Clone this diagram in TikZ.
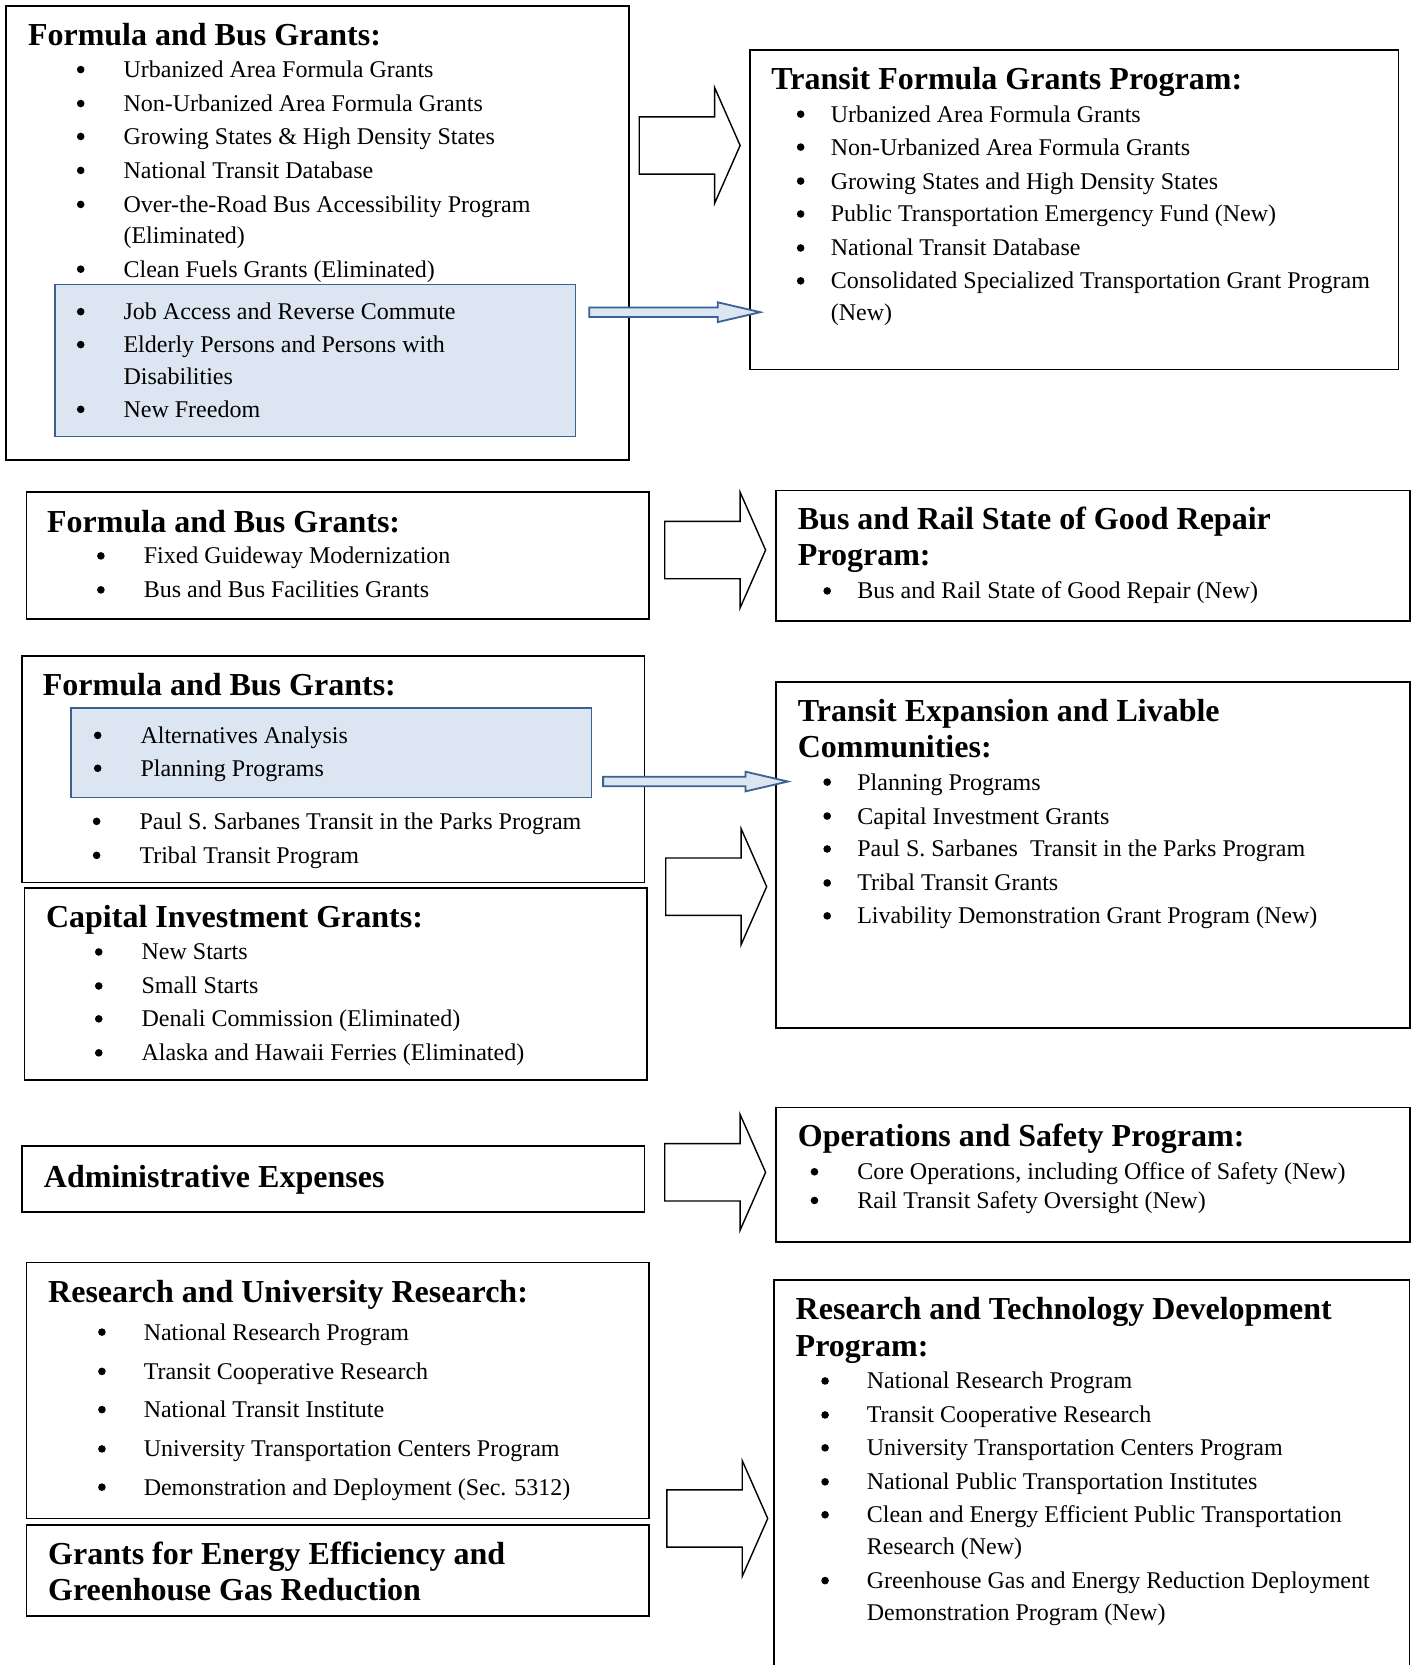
\documentclass[tikz,border=0pt]{standalone}
\usepackage{fontspec}
\setmainfont{Liberation Serif}
\usetikzlibrary{fit}
\definecolor{bfill}{RGB}{220,230,242}
\definecolor{bline}{RGB}{60,96,144}
\tikzset{
 box/.style={draw=black, line width=0.9pt, inner sep=0pt, rectangle},
 hbox/.style={draw=bline, fill=bfill, line width=0.9pt, inner sep=0pt, rectangle},
 bigarr/.style={draw=black, line width=0.7pt, fill=white, line join=miter},
 bluarr/.style={draw=bline, fill=bfill, line width=0.9pt, line join=miter},
 head/.style={anchor=base west, inner sep=0pt, font=\fontsize{16}{19}\selectfont\bfseries},
 txt/.style={anchor=base west, inner sep=0pt, font=\fontsize{12}{14}\selectfont},
 bul/.style={circle, fill=black, draw=none, inner sep=0pt, minimum size=3.8pt},
}
\newcommand\LI[5]{\node[bul] (#1b) at (#2,#4+0.5) {}; \node[txt] (#1) at (#3,#4+8) {#5};}
\newcommand\LC[4]{\node[txt] (#1) at (#2,#3+8) {#4};}
\newcommand\HD[4]{\node[head] (#1) at (#2,#3+9) {#4};}
\newcommand\BIGARROW[3]{% name, tail x, center y
 \draw[bigarr] (#2,#3-27) -- (#2+71,#3-27) -- (#2+71,#3-54.5) -- (#2+95,#3) -- (#2+71,#3+54.5) -- (#2+71,#3+27) -- (#2,#3+27) -- cycle;
 \coordinate (#1) at (#2+95,#3);}
\newcommand\BLUEARROW[4]{% name, start x, end x, y
 \draw[bluarr] (#2,#4-4.5) -- (#3-40,#4-4.5) -- (#3-40,#4-9.3) -- (#3,#4) -- (#3-40,#4+9.3) -- (#3-40,#4+4.5) -- (#2,#4+4.5) -- cycle;
 \coordinate (#1) at (#3,#4);}
\begin{document}
\begin{tikzpicture}[x=0.5308pt, y=-0.5308pt]
\useasboundingbox[fill=white] (0,0) rectangle (1332,1568);

% ---------- boxes ----------
\node[box, fit={(6,6) (592,433)}] (A) {};
\node[hbox, fit={(52,268) (542,411)}] (Ah) {};
\node[box, fit={(706,47) (1317,348)}] (B) {};
\node[box, fit={(25,463) (611,583)}] (C) {};
\node[box, fit={(731,462) (1328,585)}] (D) {};
\node[box, fit={(21,618) (607,831)}] (E) {};
\node[hbox, fit={(67,667) (557,751)}] (Eh) {};
\node[box, fit={(23,836) (609,1017)}] (F) {};
\node[box, fit={(731,642) (1328,968)}] (G) {};
\node[box, fit={(21,1079) (607,1141)}] (H) {};
\node[box, fit={(731,1043) (1328,1170)}] (I) {};
\node[box, fit={(25,1189) (611,1430)}] (J) {};
\node[box, fit={(25,1436) (611,1522)}] (K) {};
\node[inner sep=0pt, fit={(729,1206) (1327,1572)}] (L) {};
\draw[line width=0.9pt] (L.south west) -- (L.north west) -- (L.north east) -- (L.south east);

% ---------- arrows ----------
\BIGARROW{ar1}{602}{137}
\BIGARROW{ar2}{626}{518}
\BIGARROW{ar3}{627}{835}
\BIGARROW{ar4}{626}{1104}
\BIGARROW{ar5}{628}{1430}
\BLUEARROW{ba1}{555}{716}{294}
\BLUEARROW{ba2}{568}{742}{736}

% ---------- box A ----------
\HD{At}{26}{34}{Formula and Bus Grants:}
\LI{a1}{76}{116}{65}{Urbanized Area Formula Grants}
\LI{a2}{76}{116}{97}{Non-Urbanized Area Formula Grants}
\LI{a3}{76}{116}{128}{Growing States \& High Density States}
\LI{a4}{76}{116}{160}{National Transit Database}
\LI{a5}{76}{116}{192}{Over-the-Road Bus Accessibility Program}
\LC{a5c}{116}{221}{(Eliminated)}
\LI{a6}{76}{116}{253}{Clean Fuels Grants (Eliminated)}
\LI{a7}{76}{116}{293}{Job Access and Reverse Commute}
\LI{a8}{76}{116}{324}{Elderly Persons and Persons with}
\LC{a8c}{116}{354}{Disabilities}
\LI{a9}{76}{116}{385}{New Freedom}

% ---------- box B ----------
\HD{Bt}{726}{75}{Transit Formula Grants Program:}
\LI{b1}{754}{782}{107}{Urbanized Area Formula Grants}
\LI{b2}{754}{782}{138}{Non-Urbanized Area Formula Grants}
\LI{b3}{754}{782}{170}{Growing States and High Density States}
\LI{b4}{754}{782}{201}{Public Transportation Emergency Fund (New)}
\LI{b5}{754}{782}{233}{National Transit Database}
\LI{b6}{754}{782}{264}{Consolidated Specialized Transportation Grant Program}
\LC{b6c}{782}{294}{(New)}

% ---------- box C ----------
\HD{Ct}{44}{492}{Formula and Bus Grants:}
\LI{c1}{95}{135}{523}{Fixed Guideway Modernization}
\LI{c2}{95}{135}{555}{Bus and Bus Facilities Grants}

% ---------- box D ----------
\HD{Dt}{751}{490}{Bus and Rail State of Good Repair}
\HD{Dt2}{751}{524}{Program:}
\LI{d1}{779}{807}{556}{Bus and Rail State of Good Repair (New)}

% ---------- box E ----------
\HD{Et}{40}{646}{Formula and Bus Grants:}
\LI{e1}{92}{132}{692}{Alternatives Analysis}
\LI{e2}{92}{132}{723}{Planning Programs}
\LI{e3}{91}{131}{773}{Paul S. Sarbanes Transit in the Parks Program}
\LI{e4}{91}{131}{805}{Tribal Transit Program}

% ---------- box F ----------
\HD{Ft}{43}{864}{Capital Investment Grants:}
\LI{f1}{93}{133}{896}{New Starts}
\LI{f2}{93}{133}{928}{Small Starts}
\LI{f3}{93}{133}{959}{Denali Commission (Eliminated)}
\LI{f4}{93}{133}{991}{Alaska and Hawaii Ferries (Eliminated)}

% ---------- box G ----------
\HD{Gt}{751}{670}{Transit Expansion and Livable}
\HD{Gt2}{751}{704}{Communities:}
\LI{g1}{779}{807}{736}{Planning Programs}
\LI{g2}{779}{807}{768}{Capital Investment Grants}
\LI{g3}{779}{807}{799}{Paul S. Sarbanes\ \ Transit in the Parks Program}
\LI{g4}{779}{807}{831}{Tribal Transit Grants}
\LI{g5}{779}{807}{862}{Livability Demonstration Grant Program (New)}

% ---------- box H ----------
\HD{Ht}{41}{1109}{Administrative Expenses}

% ---------- box I ----------
\HD{It}{751}{1071}{Operations and Safety Program:}
\LI{i1}{767}{807}{1103}{Core Operations, including Office of Safety (New)}
\LI{i2}{767}{807}{1130}{Rail Transit Safety Oversight (New)}

% ---------- box J ----------
\HD{Jt}{45}{1218}{Research and University Research:}
\LI{j1}{96}{135}{1254}{National Research Program}
\LI{j2}{96}{135}{1291}{Transit Cooperative Research}
\LI{j3}{96}{135}{1327}{National Transit Institute}
\LI{j4}{96}{135}{1364}{University Transportation Centers Program}
\LI{j5}{96}{135}{1400}{Demonstration and Deployment (Sec. 5312)}

% ---------- box K ----------
\HD{Kt}{45}{1464}{Grants for Energy Efficiency and}
\HD{Kt2}{45}{1498}{Greenhouse Gas Reduction}

% ---------- box L ----------
\HD{Lt}{749}{1234}{Research and Technology Development}
\HD{Lt2}{749}{1268}{Program:}
\LI{l1}{777}{816}{1300}{National Research Program}
\LI{l2}{777}{816}{1332}{Transit Cooperative Research}
\LI{l3}{777}{816}{1363}{University Transportation Centers Program}
\LI{l4}{777}{816}{1395}{National Public Transportation Institutes}
\LI{l5}{777}{816}{1426}{Clean and Energy Efficient Public Transportation}
\LC{l5c}{816}{1456}{Research (New)}
\LI{l6}{777}{816}{1488}{Greenhouse Gas and Energy Reduction Deployment}
\LC{l6c}{816}{1518}{Demonstration Program (New)}
\end{tikzpicture}
\end{document}
